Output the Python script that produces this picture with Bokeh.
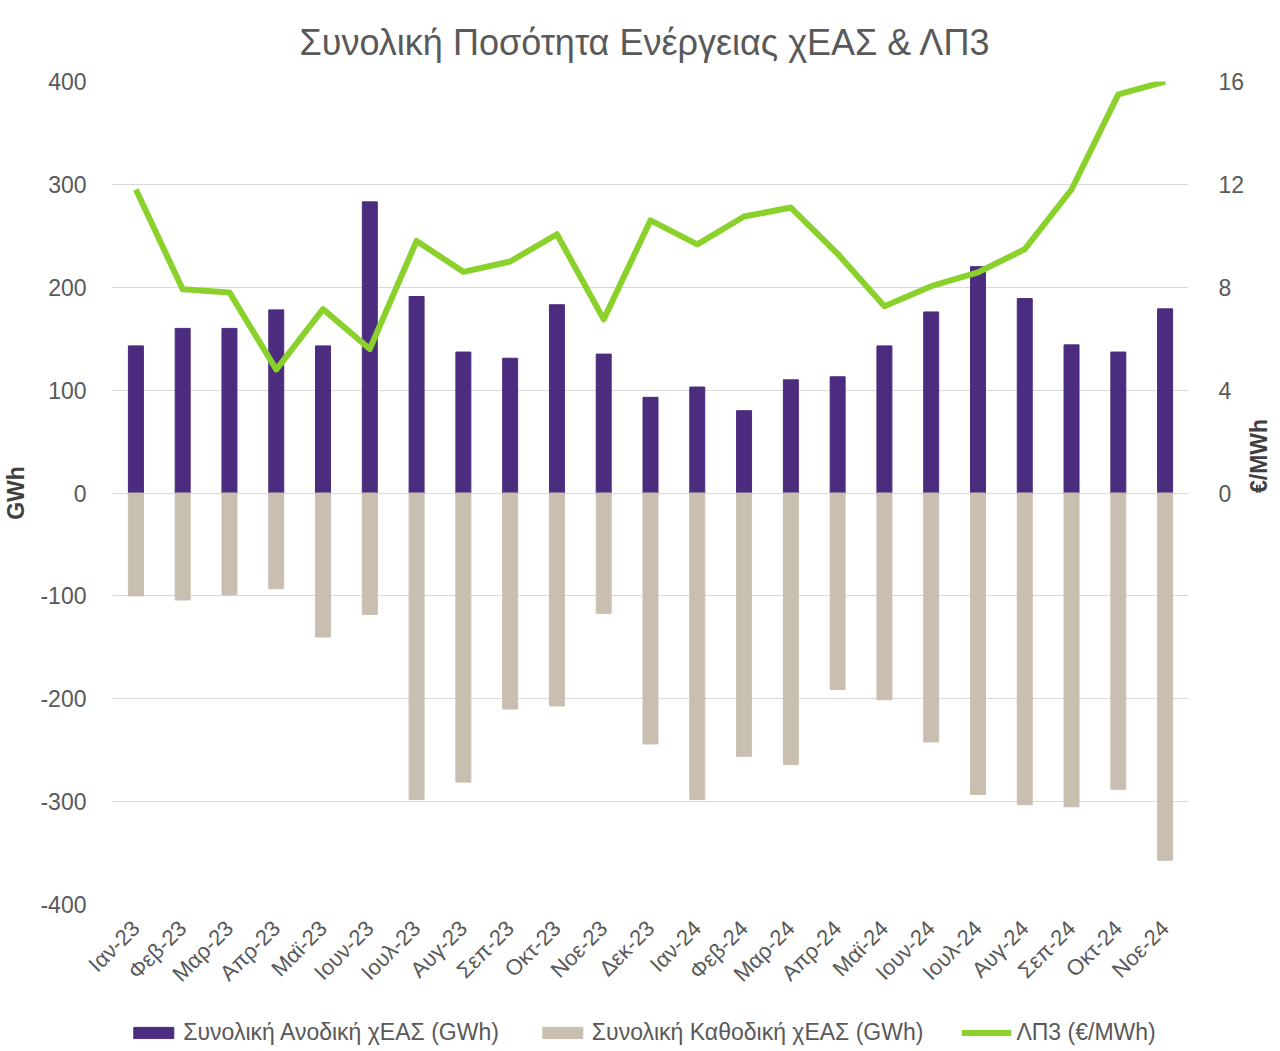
import math
from bokeh.plotting import figure
from bokeh.layouts import column
from bokeh.models import (ColumnDataSource, Range1d, LinearAxis, FixedTicker, Legend,
                          LegendItem, FactorRange, PrintfTickFormatter)
from bokeh.embed import file_html
from bokeh.resources import INLINE

months = ["Ιαν-23", "Φεβ-23", "Μαρ-23", "Απρ-23", "Μαϊ-23", "Ιουν-23", "Ιουλ-23", "Αυγ-23",
          "Σεπ-23", "Οκτ-23", "Νοε-23", "Δεκ-23", "Ιαν-24", "Φεβ-24", "Μαρ-24", "Απρ-24",
          "Μαϊ-24", "Ιουν-24", "Ιουλ-24", "Αυγ-24", "Σεπ-24", "Οκτ-24", "Νοε-24"]
upward = [143, 160, 160, 178, 143, 283, 191, 137, 131, 183, 135, 93, 103, 80, 110, 113,
          143, 176, 220, 189, 144, 137, 179]
downward = [-100, -104, -99, -93, -140, -118, -298, -281, -210, -207, -117, -244, -298, -256,
            -264, -191, -201, -242, -293, -303, -305, -288, -357]
lp3 = [11.8, 7.92, 7.8, 4.8, 7.15, 5.6, 9.8, 8.6, 9.0, 10.06, 6.75, 10.6, 9.67, 10.75, 11.1,
       9.3, 7.26, 8.04, 8.58, 9.48, 11.8, 15.5, 16.0]

left_ticks = [-400, -300, -200, -100, 0, 100, 200, 300, 400]
right_ticks = [0, 4, 8, 12, 16]

title_text = "Συνολική Ποσότητα Ενέργειας  χΕΑΣ & ΛΠ3"
label_up = "Συνολική Ανοδική χΕΑΣ (GWh)"
label_down = "Συνολική Καθοδική χΕΑΣ (GWh)"
label_line = "ΛΠ3 (€/MWh)"

PURPLE = "#4B2C7E"
BEIGE = "#C9BFB0"
GREEN = "#8AD12C"
TXT = "#595959"
FONT = "Liberation Sans"

src = ColumnDataSource(dict(m=months, up=upward, down=downward, lp=lp3))

p1 = figure(frame_width=1076, frame_height=823, x_range=FactorRange(*months, range_padding=0),
            y_range=Range1d(-400, 400), output_backend="svg", toolbar_location=None,
            min_border_left=106, min_border_right=0, min_border_top=74, min_border_bottom=110)
p1.extra_y_ranges = {"right": Range1d(-16, 16)}
p1.x_range.range_padding = 0

p1.title.text = title_text
p1.title.align = "center"
p1.title.text_font = FONT
p1.title.text_font_size = "36px"
p1.title.text_font_style = "normal"
p1.title.text_color = TXT
p1.title.standoff = 38

p1.outline_line_color = None
p1.xgrid.grid_line_color = None
p1.ygrid.grid_line_color = "#D9D9D9"
p1.ygrid.grid_line_width = 1.2
p1.ygrid.ticker = FixedTicker(ticks=left_ticks)

r_up = p1.vbar(x="m", top="up", bottom=0, width=0.32, color=PURPLE, source=src)
r_down = p1.vbar(x="m", top=0, bottom="down", width=0.32, color=BEIGE, source=src)
r_line = p1.line(x="m", y="lp", line_color=GREEN, line_width=6, y_range_name="right",
                 source=src, line_join="round")

ya = p1.yaxis[0]
ya.ticker = FixedTicker(ticks=left_ticks)
ya.formatter = PrintfTickFormatter(format="%d")
ya.axis_line_color = None
ya.major_tick_line_color = None
ya.minor_tick_line_color = None
ya.major_label_standoff = 20
ya.major_label_text_font = FONT
ya.major_label_text_font_size = "23px"
ya.major_label_text_color = TXT
ya.axis_label = "GWh"
ya.axis_label_text_font = FONT
ya.axis_label_text_font_size = "23px"
ya.axis_label_text_font_style = "bold"
ya.axis_label_text_color = "#404040"
ya.axis_label_standoff = 8

ra = LinearAxis(y_range_name="right", ticker=FixedTicker(ticks=right_ticks))
ra.formatter = PrintfTickFormatter(format="%d")
ra.axis_line_color = None
ra.major_tick_line_color = None
ra.minor_tick_line_color = None
ra.major_label_standoff = 24
ra.major_label_text_font = FONT
ra.major_label_text_font_size = "23px"
ra.major_label_text_color = TXT
ra.axis_label = "€/MWh"
ra.axis_label_orientation = math.pi / 2
ra.axis_label_text_font = FONT
ra.axis_label_text_font_size = "23px"
ra.axis_label_text_font_style = "bold"
ra.axis_label_text_color = "#404040"
ra.axis_label_standoff = 12
p1.add_layout(ra, "right")

xa = p1.xaxis[0]
xa.axis_line_color = None
xa.major_tick_line_color = None
xa.minor_tick_line_color = None
xa.major_tick_out = 0
xa.major_tick_in = 0
xa.major_label_orientation = math.pi / 4
xa.major_label_standoff = 20
xa.major_label_text_font = FONT
xa.major_label_text_font_size = "22px"
xa.major_label_text_color = TXT

# legend strip below the chart: same series drawn with the same styles, but the
# strip's y range lies outside the data so only the legend is visible
p2 = figure(width=1272, height=36, title=None, x_range=FactorRange(*months),
            y_range=Range1d(1000, 1001), output_backend="svg", toolbar_location=None,
            x_axis_location=None, y_axis_location=None, min_border=0)
p2.grid.visible = False
p2.outline_line_color = None
g_up = p2.vbar(x="m", top="up", bottom=0, width=0.32, color=PURPLE, source=src)
g_down = p2.vbar(x="m", top=0, bottom="down", width=0.32, color=BEIGE, source=src)
g_line = p2.line(x="m", y="lp", line_color=GREEN, line_width=6, source=src)

legend = Legend(items=[LegendItem(label=label_up, renderers=[g_up]),
                       LegendItem(label=label_down, renderers=[g_down]),
                       LegendItem(label=label_line, renderers=[g_line])],
                orientation="horizontal", location="center")
legend.glyph_width = 50
legend.glyph_height = 14
legend.label_standoff = 5
legend.spacing = 38
legend.label_text_font = FONT
legend.label_text_font_size = "23px"
legend.label_text_color = TXT
legend.border_line_color = None
legend.background_fill_alpha = 0
legend.padding = 0
legend.margin = 0
p2.add_layout(legend)

p = column(p1, p2, spacing=0)

open("out.html", "w").write(file_html(p, INLINE))
